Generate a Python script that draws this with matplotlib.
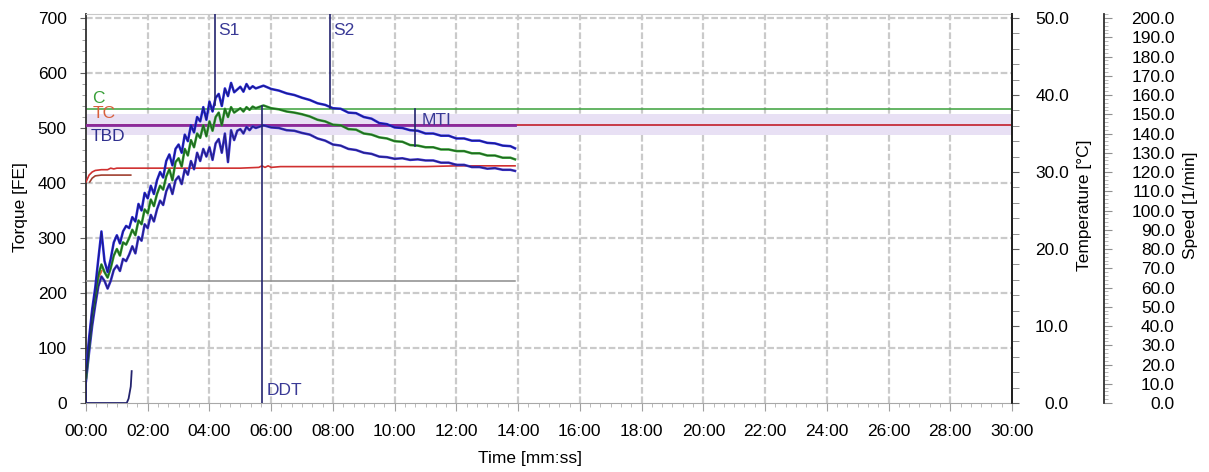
import matplotlib
matplotlib.use("Agg")
import matplotlib.pyplot as plt
from matplotlib.ticker import MultipleLocator, FuncFormatter

plt.rcParams["font.family"] = ["Liberation Sans", "DejaVu Sans"]

# time in minutes
t_curve = [0.0, 0.1, 0.2, 0.3, 0.4, 0.5, 0.6, 0.7, 0.8, 0.9,
           1.0, 1.1, 1.2, 1.3, 1.4, 1.5, 1.6, 1.7, 1.8, 1.9,
           2.0, 2.1, 2.2, 2.3, 2.4, 2.5, 2.6, 2.7, 2.8, 2.9,
           3.0, 3.1, 3.2, 3.3, 3.4, 3.5, 3.6, 3.7, 3.8, 3.9,
           4.0, 4.1, 4.2, 4.3, 4.4, 4.5, 4.6, 4.7, 4.8, 4.9,
           5.0, 5.1, 5.2, 5.3, 5.4,
           5.5, 5.75, 6.0, 6.25, 6.5, 6.75, 7.0, 7.25, 7.5, 7.75,
           8.0, 8.25, 8.5, 8.75, 9.0, 9.25, 9.5, 9.75, 10.0, 10.25,
           10.5, 10.75, 11.0, 11.25, 11.5, 11.75, 12.0, 12.25, 12.5, 12.75,
           13.0, 13.25, 13.5, 13.75, 13.9]

torque_upper = [55, 118, 170, 210, 262, 312, 258, 238, 262, 292,
                305, 290, 312, 322, 318, 338, 330, 362, 350, 382,
                372, 395, 380, 405, 420, 410, 440, 452, 432, 462,
                470, 455, 488, 476, 505, 492, 520, 512, 538, 515,
                548, 530, 555, 562, 540, 572, 558, 582, 565, 570,
                575, 566, 580, 571, 576,
                572, 577, 571, 568, 563, 560, 555, 551, 545, 542,
                536, 535, 528, 527, 520, 517, 509, 507, 501, 500,
                496, 495, 490, 490, 486, 486, 481, 481, 477, 477,
                473, 472, 468, 467, 463]

torque_mid = [45, 102, 158, 192, 232, 252, 238, 228, 245, 268,
              280, 268, 292, 288, 300, 315, 305, 332, 325, 352,
              345, 370, 358, 380, 395, 388, 412, 425, 405, 438,
              445, 430, 462, 450, 478, 465, 490, 482, 505, 485,
              512, 495, 520, 528, 505, 535, 520, 538, 528, 532,
              536, 530, 538, 533, 539,
              536, 541, 536, 534, 530, 528, 525, 521, 515, 512,
              506, 505, 498, 497, 490, 488, 483, 481, 476, 475,
              469, 468, 465, 465, 461, 461, 458, 458, 454, 454,
              450, 450, 446, 446, 443]

torque_lower = [40, 92, 140, 178, 212, 230, 222, 208, 222, 242,
                250, 240, 262, 258, 270, 285, 272, 302, 295, 325,
                318, 342, 330, 352, 368, 360, 385, 398, 380, 405,
                412, 398, 425, 415, 440, 425, 455, 440, 462, 448,
                465, 442, 472, 480, 455, 490, 438, 496, 478, 495,
                498, 490, 502, 496, 503,
                500, 505, 501, 500, 496, 495, 491, 488, 481, 477,
                470, 468, 462, 460, 455, 453, 448, 447, 444, 445,
                442, 443, 441, 441, 437, 437, 433, 433, 429, 429,
                426, 427, 424, 424, 422]

# temperature traces (deg C)
t_temp = [0.0, 0.1, 0.2, 0.3, 0.5, 0.7, 0.8, 0.9, 1.0, 1.2, 2.0, 3.0, 4.0,
          5.0, 5.6, 5.7, 5.8, 5.9, 6.0, 6.3, 7.0, 8.0, 9.0, 10.0, 11.0,
          12.0, 13.0, 13.9]
temp_mass = [28.7, 29.6, 30.0, 30.2, 30.3, 30.3, 30.5, 30.4, 30.5, 30.5,
             30.5, 30.5, 30.5, 30.5, 30.6, 30.8, 30.6, 30.8, 30.6, 30.7,
             30.7, 30.7, 30.7, 30.7, 30.7, 30.8, 30.8, 30.8]
t_temp2 = [0.12, 0.2, 0.3, 0.5, 0.8, 1.1, 1.45]
temp_second = [28.7, 29.2, 29.5, 29.6, 29.6, 29.6, 29.6]

# speed (1/min)
t_speed = [0.0, 13.9]
speed = [63.5, 63.5]

# start ramp trace (torque units)
t_ramp = [0.0, 0.0, 1.32, 1.38, 1.45, 1.48]
ramp = [40, 0, 0, 8, 30, 58]

# orange start trace
t_start = [0.0, 0.1, 0.2, 0.3, 0.4, 0.5]
start_trace = [45, 110, 165, 200, 228, 240]

# reference levels / markers
c_level = 535
tc_level = 506
tbd_level = 505
tbd_band = (488, 525)
s1_time, s1_torque = 4.18, 542
s2_time, s2_torque = 7.9, 537
ddt_time, ddt_torque = 5.7, 540
mti_time, mti_range = 10.66, (467, 535)

navy = "#24246e"
label_col = "#3a3a96"
TOP = 707.3

fig = plt.figure(figsize=(12.09, 4.72), dpi=100)
ax = fig.add_axes([86 / 1209, 1 - 403 / 472, 926 / 1209, 389 / 472])
ax.set_xlim(0, 30)
ax.set_ylim(0, TOP)

# grid
for x in range(2, 30, 2):
    ax.axvline(x, color="#cacaca", lw=1.6, ls=(0, (3, 1.2)), zorder=0)
for y in range(100, 701, 100):
    ax.axhline(y, color="#cacaca", lw=1.6, ls=(0, (3, 1.2)), zorder=0)

# band and reference lines
ax.axhspan(tbd_band[0], tbd_band[1], color="#e8e0f4", zorder=1, lw=0)
ax.axhline(c_level, color="#3aa03a", lw=1.1, zorder=2)
ax.axhline(tc_level, color="#c83a48", lw=1.4, zorder=2)
ax.plot([0, 13.9], [tbd_level, tbd_level], color="#8a2a9c", lw=2.0, zorder=3)

# temperature and speed axes
ax_t = ax.twinx()
ax_t.set_ylim(0, 50.52)
ax_s = ax.twinx()
ax_s.set_ylim(0, 202.1)
ax_s.spines["right"].set_position(("axes", (1104 - 86) / 926))

ax_s.plot(t_speed, speed, color="#8c8c8c", lw=1.1, zorder=2)
ax_t.plot(t_temp, temp_mass, color="#d03030", lw=1.2, zorder=3)
ax_t.plot(t_temp2, temp_second, color="#a04030", lw=1.2, zorder=3)

# torque curves drawn on top of everything
ax_c = ax.twinx()
ax_c.set_ylim(0, TOP)
ax_c.set_yticks([])
for sp in ax_c.spines.values():
    sp.set_visible(False)

ax_c.plot(t_start, start_trace, color="#e06030", lw=1.6, zorder=3)
ax_c.plot(t_curve, torque_lower, color="#3a30d0", lw=1.8, zorder=4)
ax_c.plot(t_curve, torque_lower, color="#1c1c60", lw=0.7, alpha=0.8, zorder=5)
ax_c.plot(t_curve, torque_mid, color="#2e9e2e", lw=1.8, zorder=4)
ax_c.plot(t_curve, torque_mid, color="#1c3c1c", lw=0.7, alpha=0.7, zorder=5)
ax_c.plot(t_curve, torque_upper, color="#2424e0", lw=1.8, zorder=4)
ax_c.plot(t_curve, torque_upper, color="#1c1c60", lw=0.7, alpha=0.8, zorder=5)
ax_c.plot(t_ramp, ramp, color=navy, lw=1.3, zorder=5)

# event markers
ax_c.plot([s1_time, s1_time], [s1_torque, TOP], color=navy, lw=1.2, zorder=6)
ax_c.plot([s2_time, s2_time], [s2_torque, TOP], color=navy, lw=1.2, zorder=6)
ax_c.plot([ddt_time, ddt_time], [0, ddt_torque], color=navy, lw=1.2, zorder=6)
ax_c.plot([mti_time, mti_time], list(mti_range), color=navy, lw=1.2, zorder=6)

fs = 12.5
ax_c.text(s1_time + 0.1, 678, "S1", color=label_col, fontsize=fs, va="center", ha="left")
ax_c.text(s2_time + 0.1, 678, "S2", color=label_col, fontsize=fs, va="center", ha="left")
ax_c.text(ddt_time + 0.16, 22, "DDT", color=label_col, fontsize=fs, va="center", ha="left")
ax_c.text(mti_time + 0.2, 513, "MTI", color=label_col, fontsize=fs, va="center", ha="left")
ax_c.text(0.2, 554, "C", color="#3aa03a", fontsize=fs, va="center", ha="left")
ax_c.text(0.2, 527, "TC", color="#d8603c", fontsize=fs, va="center", ha="left")
ax_c.text(0.16, 484, "TBD", color="#30308e", fontsize=fs, va="center", ha="left")

# torque axis
ax.yaxis.set_major_locator(MultipleLocator(100))
ax.yaxis.set_minor_locator(MultipleLocator(20))
ax.xaxis.set_major_locator(MultipleLocator(2))
ax.xaxis.set_minor_locator(MultipleLocator(1 / 3))
ax.xaxis.set_major_formatter(FuncFormatter(lambda v, p: "%02d:00" % int(round(v))))
ax.tick_params(axis="y", which="major", length=4, pad=10, labelsize=fs, color="#606060")
ax.tick_params(axis="y", which="minor", length=3, color="#909090")
ax.tick_params(axis="x", which="major", length=6, pad=9, labelsize=fs, color="#a0a0a0")
ax.tick_params(axis="x", which="minor", length=3, color="#b0b0b0")
ax.spines["left"].set_color("#303030")
ax.spines["left"].set_linewidth(1.3)
ax.spines["right"].set_color("#202020")
ax.spines["right"].set_linewidth(1.3)
ax.spines["top"].set_color("#c8c8c8")
ax.spines["bottom"].set_color("#a8a8a8")

# temperature axis
ax_t.yaxis.set_major_locator(MultipleLocator(10))
ax_t.yaxis.set_minor_locator(MultipleLocator(2))
ax_t.yaxis.set_major_formatter(FuncFormatter(lambda v, p: "%.1f" % v))
ax_t.tick_params(axis="y", which="major", length=5, pad=36, labelsize=fs, color="#606060")
ax_t.tick_params(axis="y", which="minor", length=5, color="#808080")
for lab in ax_t.get_yticklabels():
    lab.set_horizontalalignment("right")
for name in ("top", "bottom", "left"):
    ax_t.spines[name].set_visible(False)
ax_t.spines["right"].set_color("#202020")
ax_t.spines["right"].set_linewidth(1.3)

# speed axis
ax_s.yaxis.set_major_locator(MultipleLocator(10))
ax_s.yaxis.set_minor_locator(MultipleLocator(2))
ax_s.yaxis.set_major_formatter(FuncFormatter(lambda v, p: "%.1f" % v))
ax_s.tick_params(axis="y", which="major", length=6, pad=45, labelsize=fs, color="#909090")
ax_s.tick_params(axis="y", which="minor", length=3, color="#b0b0b0")
for lab in ax_s.get_yticklabels():
    lab.set_horizontalalignment("right")
for name in ("top", "bottom", "left"):
    ax_s.spines[name].set_visible(False)
ax_s.spines["right"].set_color("#303030")
ax_s.spines["right"].set_linewidth(1.3)

fig.text(530 / 1209, 1 - 458 / 472, "Time [mm:ss]", fontsize=fs, ha="center", va="center")
fig.text(21 / 1209, 1 - 207 / 472, "Torque [FE]", fontsize=fs, rotation=90, ha="center", va="center")
fig.text(1084 / 1209, 1 - 205 / 472, "Temperature [°C]", fontsize=fs, rotation=90, ha="center", va="center")
fig.text(1191 / 1209, 1 - 205 / 472, "Speed [1/min]", fontsize=fs, rotation=90, ha="center", va="center")

fig.savefig("out.png", dpi=100)
